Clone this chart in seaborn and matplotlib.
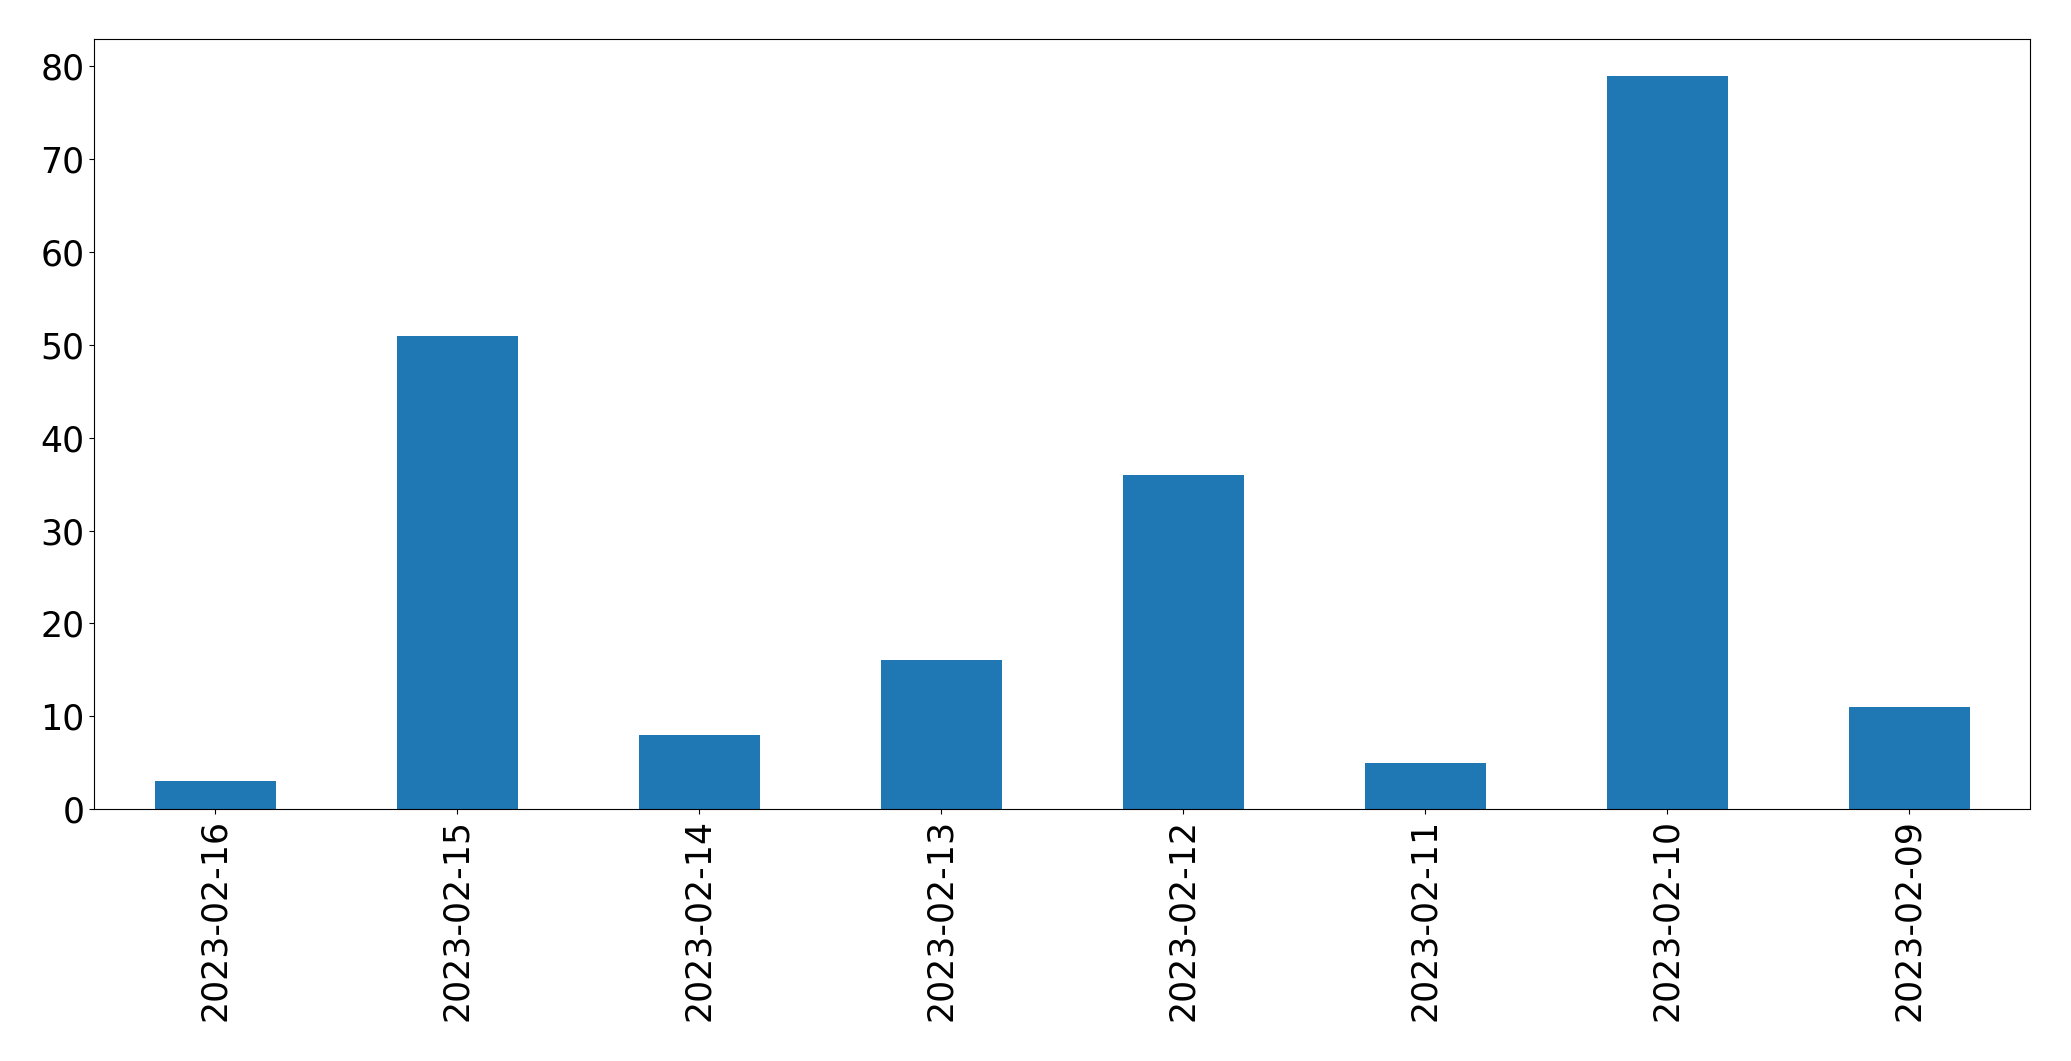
import matplotlib
matplotlib.use('Agg')
import matplotlib.pyplot as plt
import seaborn as sns
import pandas as pd

dates = ["2023-02-16", "2023-02-15", "2023-02-14", "2023-02-13",
         "2023-02-12", "2023-02-11", "2023-02-10", "2023-02-09"]
counts = [3, 51, 8, 16, 36, 5, 79, 11]

df = pd.DataFrame({'date': dates, 'count': counts})

fig, ax = plt.subplots(figsize=(20.71, 10.61), dpi=100)
fig.subplots_adjust(left=94 / 2071, right=2030 / 2071, top=1 - 39 / 1061, bottom=1 - 809 / 1061)

sns.barplot(data=df, x='date', y='count', order=dates, color='#1f77b4',
            saturation=1, width=0.5, ax=ax)
ax.set_xlim(-0.5, len(dates) - 0.5)
ax.set_ylim(0, 82.95)
ax.set_xlabel('')
ax.set_ylabel('')
ax.tick_params(axis='both', labelsize=25)
ax.tick_params(axis='x', labelrotation=90)

plt.savefig('out.png', dpi=100)
plt.close()
